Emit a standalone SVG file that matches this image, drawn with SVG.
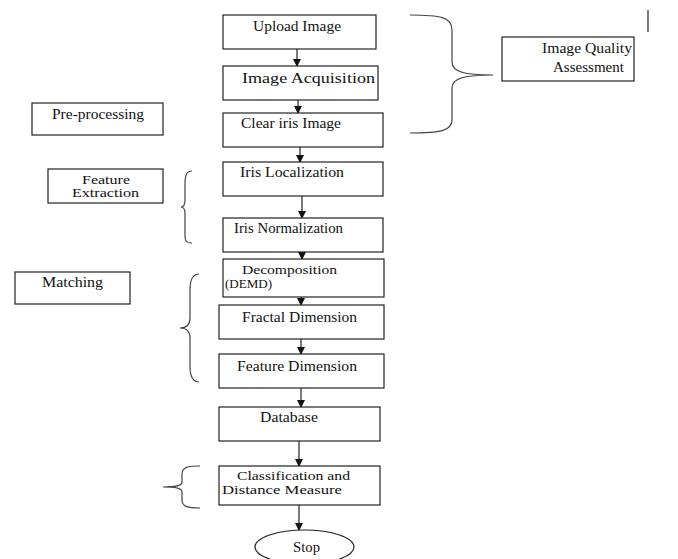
<svg xmlns="http://www.w3.org/2000/svg" width="678" height="559" viewBox="0 0 678 559">
<style>
.box{fill:#fff;stroke:#222;stroke-width:1.2}
.t{font-family:"Liberation Serif","DejaVu Serif",serif;font-size:14px;fill:#111}
.s{font-size:12px}
.br{fill:none;stroke:#444;stroke-width:1.2}
.c{stroke:#333;stroke-width:1.3;fill:none;marker-end:url(#ah)}
</style>
<defs>
<marker id="ah" markerWidth="8" markerHeight="8" refX="7" refY="4" orient="auto" markerUnits="userSpaceOnUse">
<path d="M0,0 L8,4 L0,8 Z" fill="#111"/>
</marker>
</defs>
<rect width="678" height="559" fill="#fff"/>
<g id="connectors">
<line class="c" x1="297" y1="49" x2="297" y2="66"/>
<line class="c" x1="298" y1="100" x2="298" y2="113"/>
<line class="c" x1="300" y1="147" x2="300" y2="162"/>
<line class="c" x1="302" y1="196" x2="302" y2="218"/>
<line class="c" x1="302" y1="252" x2="302" y2="259"/>
<line class="c" x1="301" y1="297" x2="301" y2="305"/>
<line class="c" x1="301" y1="339" x2="301" y2="354"/>
<line class="c" x1="301" y1="388" x2="301" y2="407"/>
<line class="c" x1="299" y1="441" x2="299" y2="466"/>
<line class="c" x1="299" y1="505" x2="299" y2="530"/>
<line x1="648" y1="10" x2="648" y2="32" stroke="#222" stroke-width="1.2"/>
</g>
<g id="braces">
<path class="br" d="M410,15 C440,15 452,17 452,30 L452,62 C452,72 465,75 493,75 C465,75 452,78 452,88 L452,120 C452,131 440,133 410,133"/>
<path class="br" d="M192,171 C186,171 185,176 185,185 L185,200 C185,205 183,207 181,207 C183,207 185,209 185,214 L185,235 C185,241 186,243 192,243"/>
<path class="br" d="M199,274 C192,274 190,280 190,290 L190,318 C190,325 186,328 180,328 C186,328 190,331 190,338 L190,366 C190,376 192,382 199,382"/>
<path class="br" d="M200,466 C188,466 182,467 182,474 L182,482 C182,486 176,487 163,487 C176,487 182,488 182,492 L182,500 C182,507 188,508 200,508"/>
</g>
<g id="upload"><rect class="box" x="223" y="15" width="153" height="34"/><text class="t" x="253" y="31" textLength="88" lengthAdjust="spacingAndGlyphs">Upload Image</text></g>
<g id="acquisition"><rect class="box" x="223" y="66" width="155" height="34"/><text class="t" x="242" y="83" textLength="133" lengthAdjust="spacingAndGlyphs">Image Acquisition</text></g>
<g id="clear"><rect class="box" x="223" y="113" width="160" height="34"/><text class="t" x="241" y="128" textLength="100" lengthAdjust="spacingAndGlyphs">Clear iris Image</text></g>
<g id="iqa"><rect class="box" x="502" y="37" width="132" height="44"/><text class="t" x="542" y="53" textLength="90" lengthAdjust="spacingAndGlyphs">Image Quality</text><text class="t" x="553" y="72" textLength="71" lengthAdjust="spacingAndGlyphs">Assessment</text></g>
<g id="preprocessing"><rect class="box" x="32" y="103" width="131" height="32"/><text class="t" x="52" y="119" textLength="92" lengthAdjust="spacingAndGlyphs">Pre-processing</text></g>
<g id="featureextraction"><rect class="box" x="48" y="169" width="115" height="34"/><text class="t s" x="82" y="184" textLength="48" lengthAdjust="spacingAndGlyphs">Feature</text><text class="t s" x="72" y="197" textLength="67" lengthAdjust="spacingAndGlyphs">Extraction</text></g>
<g id="localization"><rect class="box" x="223" y="162" width="160" height="34"/><text class="t" x="240" y="177" textLength="104" lengthAdjust="spacingAndGlyphs">Iris Localization</text></g>
<g id="normalization"><rect class="box" x="223" y="218" width="160" height="34"/><text class="t" x="234" y="233" textLength="109" lengthAdjust="spacingAndGlyphs">Iris Normalization</text></g>
<g id="matching"><rect class="box" x="15" y="272" width="115" height="32"/><text class="t" x="42" y="287" textLength="61" lengthAdjust="spacingAndGlyphs">Matching</text></g>
<g id="decomposition"><rect class="box" x="223" y="259" width="161" height="38"/><text class="t s" x="242" y="274" textLength="95" lengthAdjust="spacingAndGlyphs">Decomposition</text><text class="t s" x="225" y="288" textLength="47" lengthAdjust="spacingAndGlyphs">(DEMD)</text></g>
<g id="fractal"><rect class="box" x="219" y="305" width="165" height="34"/><text class="t" x="242" y="322" textLength="115" lengthAdjust="spacingAndGlyphs">Fractal Dimension</text></g>
<g id="featuredim"><rect class="box" x="219" y="354" width="165" height="34"/><text class="t" x="237" y="371" textLength="120" lengthAdjust="spacingAndGlyphs">Feature Dimension</text></g>
<g id="database"><rect class="box" x="219" y="407" width="161" height="34"/><text class="t" x="260" y="422" textLength="58" lengthAdjust="spacingAndGlyphs">Database</text></g>
<g id="classification"><rect class="box" x="219" y="466" width="161" height="39"/><text class="t s" x="237" y="480" textLength="113" lengthAdjust="spacingAndGlyphs">Classification and</text><text class="t s" x="222" y="494" textLength="120" lengthAdjust="spacingAndGlyphs">Distance Measure</text></g>
<g id="stop"><ellipse cx="304.5" cy="547" rx="49.5" ry="17" fill="#fff" stroke="#222" stroke-width="1.2"/><text class="t" x="293" y="552" textLength="27" lengthAdjust="spacingAndGlyphs">Stop</text></g>
</svg>
